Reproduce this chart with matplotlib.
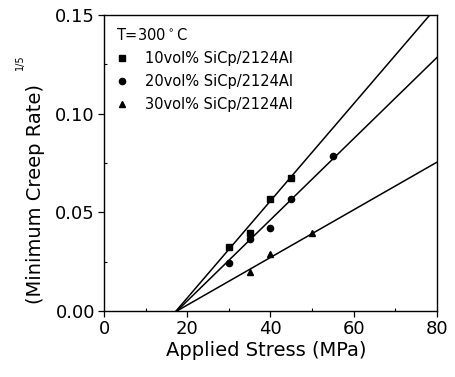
import numpy as np
import matplotlib
matplotlib.use('Agg')
import matplotlib.pyplot as plt
from matplotlib.ticker import MultipleLocator, FormatStrFormatter

# data
labels = ['10vol% SiCp/2124Al', '20vol% SiCp/2124Al', '30vol% SiCp/2124Al']
markers = ['s', 'o', '^']

stress_10 = [30, 35, 40, 45]
rate_10 = [0.0326, 0.0394, 0.0568, 0.0676]

stress_20 = [30, 35, 40, 45, 55]
rate_20 = [0.0245, 0.0363, 0.0422, 0.0568, 0.0787]

stress_30 = [35, 40, 50]
rate_30 = [0.0199, 0.0289, 0.0394]

# fitted lines: threshold stress (MPa) and slope
threshold = [17.3, 17.5, 17.5]
slope = [0.00246, 0.002056, 0.001207]

stress = [stress_10, stress_20, stress_30]
rate = [rate_10, rate_20, rate_30]

fig = plt.figure(figsize=(4.55, 3.77), dpi=100)
ax = fig.add_axes([0.2286, 0.175, 0.7318, 0.7852])

for i in range(3):
    ax.plot(stress[i], rate[i], linestyle='none', marker=markers[i],
            color='black', markersize=4.5, label=labels[i])
    xs = np.array([threshold[i], 80])
    ax.plot(xs, slope[i] * (xs - threshold[i]), color='black', lw=1.1)

ax.set_xlim(0, 80)
ax.set_ylim(0, 0.15)
ax.xaxis.set_major_locator(MultipleLocator(20))
ax.xaxis.set_minor_locator(MultipleLocator(10))
ax.yaxis.set_major_locator(MultipleLocator(0.05))
ax.yaxis.set_minor_locator(MultipleLocator(0.025))
ax.yaxis.set_major_formatter(FormatStrFormatter('%.2f'))
ax.tick_params(which='major', direction='out', length=4, width=0.9,
               labelsize=13, pad=2.5)
ax.tick_params(which='minor', direction='in', length=2.5, width=0.8)
for s in ax.spines.values():
    s.set_linewidth(1.0)

ax.set_xlabel('Applied Stress (MPa)', fontsize=14)
ax.xaxis.set_label_coords(0.486, -0.1)
ax.set_ylabel('(Minimum Creep Rate)', fontsize=14)
ax.yaxis.set_label_coords(-0.177, 0.397)
fig.text(20 / 455, 1 - 62 / 377, '1/5', rotation=90, fontsize=7,
         ha='center', va='center')

leg = ax.legend(loc='upper left', title='T=300$^\\circ$C', frameon=False,
                fontsize=10.5, title_fontsize=10.5, handlelength=0.8,
                handletextpad=1.2, labelspacing=0.55,
                borderaxespad=0.4, alignment='left')

fig.savefig('out.png', dpi=100)
